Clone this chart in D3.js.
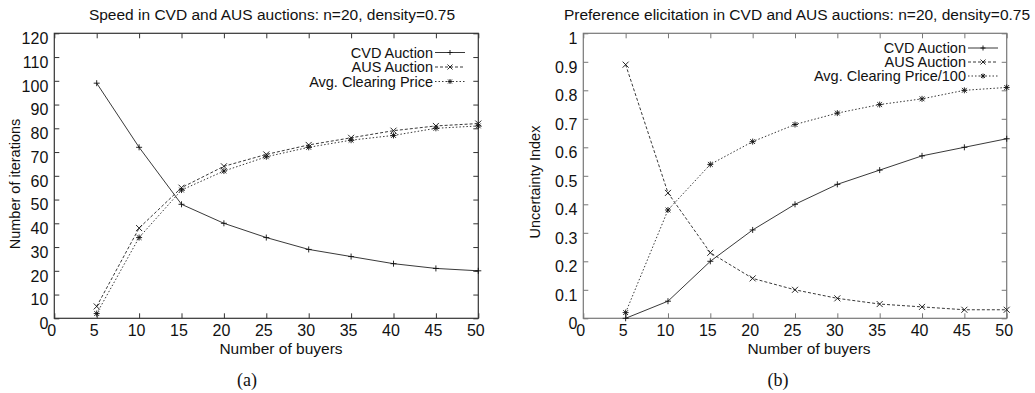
<!DOCTYPE html>
<html>
<head>
<meta charset="utf-8">
<script src="https://cdn.jsdelivr.net/npm/d3@7"></script>
<style>
  body { margin: 0; background: #fff; }
  text { font-family: "Liberation Sans", Arial, sans-serif; fill: #111; }
  .caption { font-family: "Liberation Serif", "Times New Roman", serif; }
</style>
</head>
<body>
<div id="chart"></div>
<script>
// values
var buyers = [5, 10, 15, 20, 25, 30, 35, 40, 45, 50];

var speedCVD   = [99, 72, 48, 40, 34, 29, 26, 23, 21, 20];
var speedAUS   = [5, 38, 55, 64, 69, 73, 76, 79, 81, 82];
var speedPrice = [2, 34, 54, 62, 68, 72, 75, 77, 80, 81];

var prefCVD   = [0, 0.06, 0.20, 0.31, 0.40, 0.47, 0.52, 0.57, 0.60, 0.63];
var prefAUS   = [0.89, 0.44, 0.23, 0.14, 0.10, 0.07, 0.05, 0.04, 0.03, 0.03];
var prefPrice = [0.02, 0.38, 0.54, 0.62, 0.68, 0.72, 0.75, 0.77, 0.80, 0.81];

var xTickValues = [0, 5, 10, 15, 20, 25, 30, 35, 40, 45, 50];
var speedTicks = [0, 10, 20, 30, 40, 50, 60, 70, 80, 90, 100, 110, 120];
var prefTicks = [0, 0.1, 0.2, 0.3, 0.4, 0.5, 0.6, 0.7, 0.8, 0.9, 1];
var prefTickLabels = ["0", "0.1", "0.2", "0.3", "0.4", "0.5", "0.6", "0.7", "0.8", "0.9", "1"];

var svg = d3.select("#chart").append("svg")
  .attr("width", 1035)
  .attr("height", 393);

// marker shapes, gnuplot style
function plusPath(x, y, r) {
  return `M${x - r},${y}H${x + r}M${x},${y - r}V${y + r}`;
}
function crossPath(x, y, r) {
  return `M${x - r},${y - r}L${x + r},${y + r}M${x - r},${y + r}L${x + r},${y - r}`;
}
function starPath(x, y, r) {
  return plusPath(x, y, r) + crossPath(x, y, r * 0.8);
}

function drawPanel(p) {
  var g = svg.append("g");

  var x = d3.scaleLinear().domain([0, 50]).range([p.left, p.right]);
  var y = d3.scaleLinear().domain([0, p.yMax]).range([p.bottom, p.top]);

  // axes with inward ticks
  var bottomAxis = d3.axisBottom(x).tickValues(xTickValues).tickSize(-5).tickPadding(6);
  var topAxis = d3.axisTop(x).tickValues(xTickValues).tickSize(-5).tickFormat("");
  var leftAxis = d3.axisLeft(y).tickValues(p.yTicks).tickSize(-5).tickPadding(6)
    .tickFormat((d, i) => p.yLabels[i]);
  var rightAxis = d3.axisRight(y).tickValues(p.yTicks).tickSize(-5).tickFormat("");

  var xb = g.append("g").attr("transform", `translate(0,${p.bottom})`).call(bottomAxis);
  g.append("g").attr("transform", `translate(0,${p.top})`).call(topAxis);
  var yl = g.append("g").attr("transform", `translate(${p.left},0)`).call(leftAxis);
  g.append("g").attr("transform", `translate(${p.right},0)`).call(rightAxis);

  g.selectAll(".domain").remove();
  g.selectAll(".tick line").attr("stroke", p.frame);
  xb.selectAll("text").attr("font-size", p.tickFont).attr("fill", "#111")
    .attr("font-family", "Liberation Sans, Arial, sans-serif")
    .attr("dx", -3).attr("dy", "0.71em");
  yl.selectAll("text").attr("font-size", p.tickFont).attr("fill", "#111")
    .attr("font-family", "Liberation Sans, Arial, sans-serif")
    .attr("dy", "0.65em");

  // frame
  g.append("rect")
    .attr("x", p.left).attr("y", p.top)
    .attr("width", p.right - p.left).attr("height", p.bottom - p.top)
    .attr("fill", "none").attr("stroke", p.frame).attr("stroke-width", 1.2);

  // series
  p.series.forEach(function(s) {
    var line = d3.line().x((d, i) => x(buyers[i])).y(d => y(d));
    g.append("path")
      .datum(s.values)
      .attr("d", line)
      .attr("fill", "none")
      .attr("stroke", "#222")
      .attr("stroke-width", 0.9)
      .attr("stroke-dasharray", s.dash);
    g.append("path")
      .attr("d", s.values.map((d, i) => s.marker(x(buyers[i]), y(d), 3)).join(""))
      .attr("fill", "none")
      .attr("stroke", "#111")
      .attr("stroke-width", 0.9);
  });

  // key
  p.series.forEach(function(s, i) {
    var by = p.keyTop + i * p.keyStep;
    g.append("text")
      .attr("x", p.keyText).attr("y", by)
      .attr("text-anchor", "end")
      .attr("font-size", p.keyFont)
      .text(s.name);
    g.append("path")
      .attr("d", `M${p.keyText + 2},${by - 5}H${p.keyText + 32}`)
      .attr("stroke", "#222").attr("stroke-width", 0.9)
      .attr("stroke-dasharray", s.dash);
    g.append("path")
      .attr("d", s.marker(p.keyText + 17, by - 5, 2.5))
      .attr("stroke", "#111").attr("fill", "none").attr("stroke-width", 0.9);
  });

  // titles
  g.append("text")
    .attr("x", p.titleX).attr("y", 20)
    .attr("text-anchor", "middle").attr("font-size", 15.5)
    .text(p.title);

  g.append("text")
    .attr("x", p.xLabelX).attr("y", 354)
    .attr("text-anchor", "middle").attr("font-size", 15.5)
    .text("Number of buyers");

  g.append("text")
    .attr("transform", `translate(${p.yLabelX},${p.yLabelY}) rotate(-90)`)
    .attr("text-anchor", "middle").attr("font-size", p.yLabelFont)
    .text(p.yLabel);

  g.append("text")
    .attr("class", "caption")
    .attr("x", p.capX).attr("y", 386)
    .attr("text-anchor", "middle").attr("font-size", 18)
    .text(p.caption);
}

drawPanel({
  left: 54.3, right: 478.3, top: 33.3, bottom: 318.3,
  yMax: 120, yTicks: speedTicks, yLabels: speedTicks.map(String),
  frame: "#333", tickFont: 16,
  series: [
    {name: "CVD Auction", values: speedCVD, dash: null, marker: plusPath},
    {name: "AUS Auction", values: speedAUS, dash: "3,2", marker: crossPath},
    {name: "Avg. Clearing Price", values: speedPrice, dash: "1.5,2", marker: starPath}
  ],
  keyText: 433, keyTop: 57.5, keyStep: 14.5, keyFont: 14.5,
  title: "Speed in CVD and AUS auctions: n=20, density=0.75", titleX: 272,
  xLabelX: 281,
  yLabel: "Number of iterations", yLabelX: 20, yLabelY: 184, yLabelFont: 14.5,
  caption: "(a)", capX: 247
});

drawPanel({
  left: 583.3, right: 1006.7, top: 33.3, bottom: 318.3,
  yMax: 1, yTicks: prefTicks, yLabels: prefTickLabels,
  frame: "#777", tickFont: 16,
  series: [
    {name: "CVD Auction", values: prefCVD, dash: null, marker: plusPath},
    {name: "AUS Auction", values: prefAUS, dash: "3,2", marker: crossPath},
    {name: "Avg. Clearing Price/100", values: prefPrice, dash: "1.5,2", marker: starPath}
  ],
  keyText: 966, keyTop: 53, keyStep: 14, keyFont: 14.5,
  title: "Preference elicitation in CVD and AUS auctions: n=20, density=0.75", titleX: 797,
  xLabelX: 809,
  yLabel: "Uncertainty Index", yLabelX: 540, yLabelY: 182, yLabelFont: 14.5,
  caption: "(b)", capX: 778
});
</script>
</body>
</html>
